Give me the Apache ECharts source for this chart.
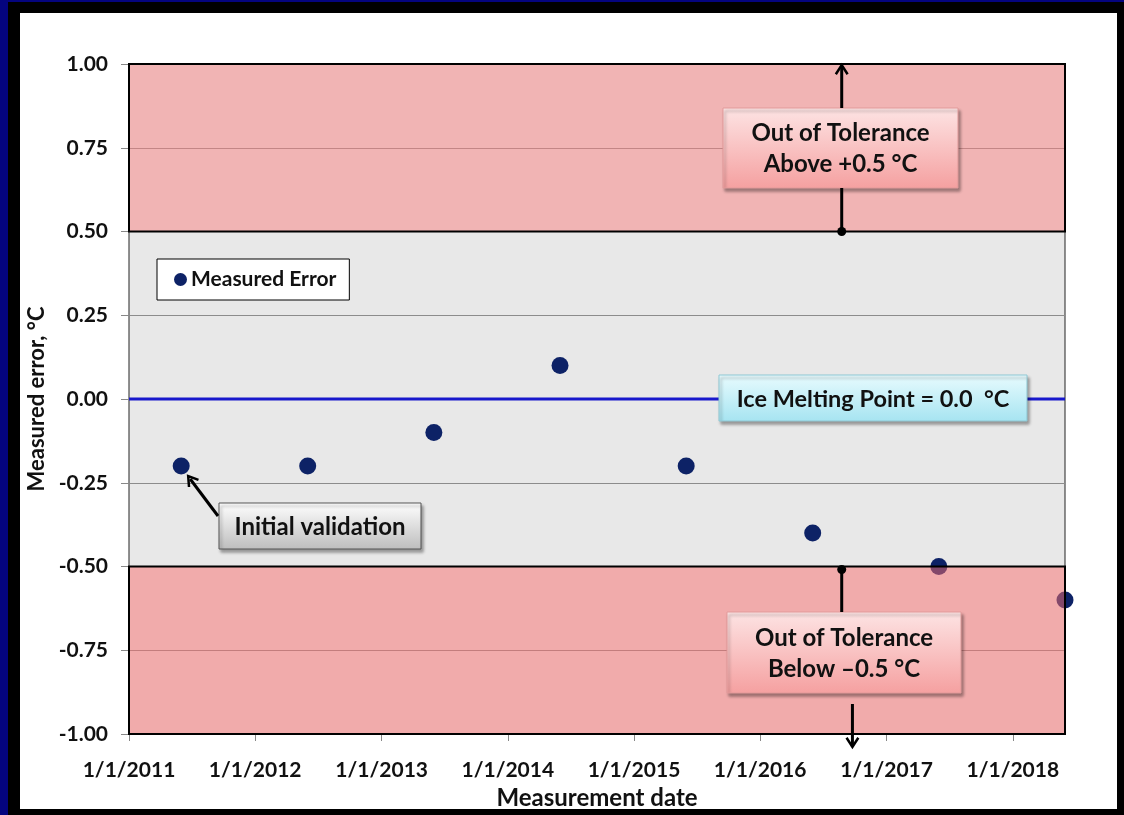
<!DOCTYPE html>
<html><head><meta charset="utf-8">
<script src="https://cdn.jsdelivr.net/npm/echarts@6/dist/echarts.min.js"></script>
<style>
html,body{margin:0;padding:0;width:1124px;height:815px;overflow:hidden;background:#04047f;}
#frame{position:absolute;left:8px;top:2px;width:1116px;height:813px;background:#000;}
#paper{position:absolute;left:20px;top:13px;width:1097px;height:796px;background:#fff;}
#chart{position:absolute;left:0;top:0;width:1124px;height:815px;}
</style></head><body>
<div id="frame"></div><div id="paper"></div><div id="chart"></div>
<script>
// ---- data ----
const measurementDates = ['2011-06-01','2012-06-01','2013-06-01','2014-06-01','2015-06-01','2016-06-01','2017-06-01','2018-06-01'];
const measuredError = [-0.20, -0.20, -0.10, 0.10, -0.20, -0.40, -0.50, -0.60];
const yearTicks = ['2011-01-01','2012-01-01','2013-01-01','2014-01-01','2015-01-01','2016-01-01','2017-01-01','2018-01-01'];
const xRange = ['2011-01-01', '2018-06-01'];
const yRange = [-1.0, 1.0];
const yStep = 0.25;
const iceMeltingPoint = 0.0;
const upperTolerance = [0.5, 1.0];
const lowerTolerance = [-1.0, -0.5];
const seriesName = 'Measured Error';
const xAxisTitle = 'Measurement date';
const yAxisTitle = 'Measured error, °C';
const noteAbove = 'Out of Tolerance\nAbove +0.5 °C';
const noteBelow = 'Out of Tolerance\nBelow \u20130.5 °C';
const noteIce = 'Ice Melting Point = 0.0  °C';
const noteInitial = 'Initial validation';

const FONT = 'Lato, "Liberation Sans", sans-serif';
const chart = echarts.init(document.getElementById('chart'), null, {renderer: 'canvas'});

function ts(s) { const p = s.split('-').map(Number); return Date.UTC(p[0], p[1] - 1, p[2]); }
function fmtDate(v) {
  const d = new Date(v);
  return (d.getUTCMonth() + 1) + '/' + d.getUTCDate() + '/' + d.getUTCFullYear();
}
const xMin = ts(xRange[0]), xMax = ts(xRange[1]);
const tickVals = yearTicks.map(ts);

const option = {
  animation: false,
  backgroundColor: 'transparent',
  grid: {
    left: 129, right: 59, top: 64, bottom: 81,
    show: true, backgroundColor: '#e8e8e8', borderColor: '#222', borderWidth: 1
  },
  legend: {
    data: [seriesName], left: 157, top: 259,
    backgroundColor: '#fff', borderColor: '#000', borderWidth: 1,
    padding: [10, 13, 10, 17], icon: 'circle', itemWidth: 13, itemHeight: 13, itemGap: 5,
    textStyle: {fontFamily: FONT, fontWeight: 'bold', fontSize: 21, color: '#111', padding: [0, 0, 0, -1]}
  },
  xAxis: {
    type: 'value', min: xMin, max: xMax,
    name: xAxisTitle, nameLocation: 'middle', nameGap: 38,
    nameTextStyle: {fontFamily: FONT, fontWeight: 'bold', fontSize: 24, color: '#111'},
    axisLine: {show: true, onZero: false, lineStyle: {color: '#888', width: 1}},
    axisTick: {show: true, length: 7, lineStyle: {color: '#888'}, customValues: tickVals},
    axisLabel: {customValues: tickVals, formatter: fmtDate, margin: 26,
      fontFamily: FONT, fontWeight: 'bold', fontSize: 21, color: '#111'},
    splitLine: {show: false}
  },
  yAxis: {
    type: 'value', min: yRange[0], max: yRange[1], interval: yStep,
    name: yAxisTitle, nameLocation: 'middle', nameGap: 69, nameRotate: 90,
    nameTextStyle: {fontFamily: FONT, fontWeight: 'bold', fontSize: 22, color: '#111'},
    axisLine: {show: true, onZero: false, lineStyle: {color: '#888', width: 1}},
    axisTick: {show: true, length: 8, lineStyle: {color: '#888'}},
    axisLabel: {formatter: v => v.toFixed(2), margin: 21,
      fontFamily: FONT, fontWeight: 'bold', fontSize: 21, color: '#111'},
    splitLine: {show: true, lineStyle: {color: '#8c8c8c', width: 1}}
  },
  series: [
    {
      name: 'Ice Melting Point', type: 'line', z: 2,
      data: [[xMin, iceMeltingPoint], [xMax, iceMeltingPoint]],
      symbol: 'none', lineStyle: {color: '#1818cc', width: 3}, silent: true
    },
    {
      name: seriesName, type: 'scatter', z: 3,
      data: measurementDates.map((d, i) => [ts(d), measuredError[i]]),
      symbolSize: 17, itemStyle: {color: '#0d2266', opacity: 1}
    },
    {
      name: 'Tolerance', type: 'scatter', z: 5, data: [], silent: true,
      markArea: {
        silent: true, z: 10,
        data: [
          [{yAxis: upperTolerance[0], itemStyle: {color: 'rgba(250,128,128,0.5)', borderColor: '#000', borderWidth: 2}},
           {yAxis: upperTolerance[1]}],
          [{yAxis: lowerTolerance[0], itemStyle: {color: 'rgba(250,110,110,0.5)', borderColor: '#000', borderWidth: 2}},
           {yAxis: lowerTolerance[1]}]
        ]
      }
    }
  ]
};
chart.setOption(option);

// ---- annotations positioned from the axes ----
const P = (d, v) => chart.convertToPixel({gridIndex: 0}, [d, v]);
const yTop = P(xMin, upperTolerance[1])[1];
const yUp = P(xMin, upperTolerance[0])[1];
const yLow = P(xMin, lowerTolerance[1])[1];
const yBot = P(xMin, lowerTolerance[0])[1];
const first = P(ts(measurementDates[0]), measuredError[0]);
const xTop = P(ts('2016-08-24'), 0)[0];
const xBotArrow = P(ts('2016-09-24'), 0)[0];

const shadow = {shadowBlur: 3, shadowOffsetX: 2, shadowOffsetY: 3, shadowColor: 'rgba(0,0,0,0.35)'};
function grad(a, b) { return {type: 'linear', x: 0, y: 0, x2: 0, y2: 1, colorStops: [{offset: 0, color: a}, {offset: 1, color: b}]}; }
function box(x, y, w, h, fill, stroke, text, size) {
  return [
    {type: 'rect', z: 100, shape: {x, y, width: w, height: h},
     style: Object.assign({fill, stroke, lineWidth: 1}, shadow)},
    {type: 'text', z: 101, x: x + w / 2, y: y + h / 2 + 1,
     style: {text, align: 'center', verticalAlign: 'middle', fill: '#111',
       font: 'bold ' + (size || 24) + 'px ' + FONT, lineHeight: 31}}
  ];
}
function arrowHead(tx, ty, fx, fy, size) {
  const ang = Math.atan2(ty - fy, tx - fx);
  const a1 = ang + Math.PI * 0.82, a2 = ang - Math.PI * 0.82;
  return {type: 'polyline', z: 102, shape: {points: [
    [tx + size * Math.cos(a1), ty + size * Math.sin(a1)], [tx, ty],
    [tx + size * Math.cos(a2), ty + size * Math.sin(a2)]]},
    style: {stroke: '#000', lineWidth: 2.5, fill: null}};
}
function line(x1, y1, x2, y2) {
  return {type: 'line', z: 102, shape: {x1, y1, x2, y2}, style: {stroke: '#000', lineWidth: 3}};
}
function dot(x, y) {
  return {type: 'circle', z: 103, shape: {cx: x, cy: y, r: 4.5}, style: {fill: '#000'}};
}

const redFill = grad('#fde4e4', '#f5a0a0');
const g = [];
g.push(line(xTop, yTop + 2, xTop, 108));
g.push(arrowHead(xTop, yTop + 1, xTop, 108, 11));
g.push(line(xTop, 188, xTop, yUp));
g.push(dot(xTop, yUp));
g.push(...box(723, 108, 235, 80, redFill, '#e29a9a', noteAbove));
g.push(line(xTop, yLow + 3, xTop, 612));
g.push(dot(xTop, yLow + 3));
g.push(line(xBotArrow, 704, xBotArrow, yBot + 13));
g.push(arrowHead(xBotArrow, yBot + 13, xBotArrow, 704, 11));
g.push(...box(727, 612, 234, 81, redFill, '#e29a9a', noteBelow));
g.push(...box(719, 375, 308, 46, grad('#e8fbfe', '#a6e4f1'), '#8fc8d4', noteIce, 23.5));
const tip = [first[0] + 7, first[1] + 10];
const tail = [218, 516];
g.push(line(tail[0], tail[1], tip[0] + 2, tip[1] + 3));
g.push(arrowHead(tip[0], tip[1], tail[0], tail[1], 11));
g.push(...box(219, 503, 202, 46, grad('#ffffff', '#bdbdbd'), '#555', noteInitial, 24));

chart.setOption({graphic: g});
</script>
</body></html>
